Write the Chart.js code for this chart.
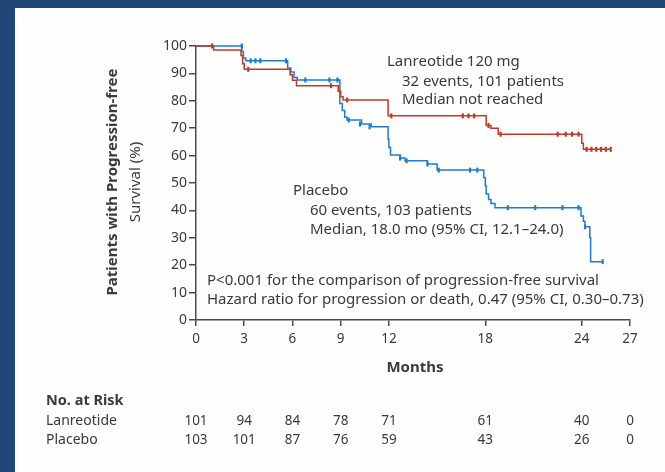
<!DOCTYPE html>
<html>
<head>
<meta charset="utf-8">
<script src="https://cdn.jsdelivr.net/npm/chart.js@4/dist/chart.umd.min.js"></script>
<style>
  html, body { margin: 0; padding: 0; }
  body { width: 665px; height: 472px; background: #1f4777; position: relative; overflow: hidden; }
  #panel { position: absolute; left: 15px; top: 8px; right: 0; bottom: 0; background: #fefefd; }
  #wrap { position: absolute; left: 0; top: 0; width: 665px; height: 472px; }
</style>
</head>
<body>
<div id="panel"></div>
<div id="wrap"><canvas id="km" width="665" height="472"></canvas></div>
<script>
// Progression-free survival, Kaplan-Meier estimates (month, % progression-free)
const monthTicks = [0, 3, 6, 9, 12, 18, 24, 27];

const lanreotideSteps = [
  [0, 100], [1.1, 98.5], [2.8, 96.5], [2.9, 93.5], [3.0, 91.5],
  [5.85, 89.5], [6.0, 87.5], [6.25, 85.5], [8.85, 83.5], [9.0, 81.5], [9.15, 80.3],
  [11.95, 74.5], [18.05, 71], [18.35, 70], [18.8, 67.8],
  [24.0, 64.5], [24.1, 62.3], [25.8, 62.3]
];
const lanreotideCensored = [
  [1.0, 100], [3.25, 91.5], [8.4, 85.5], [9.4, 80.3], [12.15, 74.5],
  [16.6, 74.5], [16.95, 74.5], [17.3, 74.5], [18.2, 71], [18.95, 67.8],
  [22.5, 67.8], [23.0, 67.8], [23.4, 67.8], [23.8, 67.8],
  [24.3, 62.3], [24.6, 62.3], [24.9, 62.3], [25.2, 62.3], [25.5, 62.3], [25.8, 62.3]
];

const placeboSteps = [
  [0, 100], [2.85, 98], [2.95, 95.6], [3.1, 94.6],
  [5.7, 92], [5.9, 90.5], [6.1, 88.5], [6.3, 87.6],
  [8.95, 79], [9.1, 76.5], [9.25, 74], [9.4, 73], [10.3, 71.5], [10.9, 70.5],
  [11.95, 66], [12.0, 63], [12.1, 60.2], [12.7, 59.1], [13.0, 58.1],
  [14.4, 56.9], [15.0, 54.7],
  [17.9, 52], [18.0, 49], [18.05, 46], [18.2, 44], [18.35, 42.5], [18.6, 41],
  [23.95, 38], [24.1, 36], [24.2, 34], [24.5, 30], [24.55, 21.3], [25.3, 21.3]
];
const placeboCensored = [
  [2.85, 100], [3.4, 94.6], [3.7, 94.6], [4.0, 94.6], [5.6, 94.6],
  [6.8, 87.6], [8.3, 87.6], [8.8, 87.6], [9.5, 73], [10.2, 71.5], [10.8, 70.5],
  [12.7, 59.1], [13.1, 58.1], [14.4, 56.9], [15.1, 54.7], [17.05, 54.7], [17.5, 54.7],
  [19.4, 41], [21.1, 41], [22.8, 41], [23.8, 41], [24.2, 34], [25.3, 21.3]
];

// Numbers at risk, by month of follow-up
const riskMonths = [0, 3, 6, 9, 12, 18, 24, 27];
const lanreotideAtRisk = [101, 94, 84, 78, 71, 61, 40, 0];
const placeboAtRisk = [103, 101, 87, 76, 59, 43, 26, 0];

const RED = '#bf382c';
const BLUE = '#1f7bcf';
const INK = '#3a3a3a';
const AXIS = '#4a4a4a';
const FAMILY = '"Noto Sans", "Open Sans", sans-serif';

const toPts = arr => arr.map(([x, y]) => ({ x, y }));

const textLayer = {
  id: 'textLayer',
  afterDraw(chart) {
    const ctx = chart.ctx;
    const xs = chart.scales.x;
    ctx.save();
    ctx.fillStyle = INK;
    ctx.textBaseline = 'middle';

    // y-axis title, two lines rotated
    ctx.save();
    ctx.translate(113, 182);
    ctx.rotate(-Math.PI / 2);
    ctx.textAlign = 'center';
    ctx.font = 'bold 15px ' + FAMILY;
    ctx.fillText('Patients with Progression-free', 0, 0);
    ctx.font = '15px ' + FAMILY;
    ctx.fillText('Survival (%)', 0, 23);
    ctx.restore();

    // x-axis title
    ctx.textAlign = 'center';
    ctx.font = 'bold 15px ' + FAMILY;
    ctx.fillText('Months', 415, 368);

    // series annotations
    ctx.textAlign = 'left';
    ctx.font = '15px ' + FAMILY;
    ctx.fillText('Lanreotide 120 mg', 387, 62);
    ctx.fillText('32 events, 101 patients', 402, 82);
    ctx.fillText('Median not reached', 402, 100);
    ctx.fillText('Placebo', 293, 191);
    ctx.fillText('60 events, 103 patients', 310, 211);
    ctx.fillText('Median, 18.0 mo (95% CI, 12.1\u201324.0)', 310, 230);
    ctx.fillText('P<0.001 for the comparison of progression-free survival', 207, 281);
    ctx.fillText('Hazard ratio for progression or death, 0.47 (95% CI, 0.30\u20130.73)', 207, 300);

    // numbers at risk
    ctx.font = 'bold 14.5px ' + FAMILY;
    ctx.fillText('No. at Risk', 46, 401);
    ctx.font = '14px ' + FAMILY;
    ctx.fillText('Lanreotide', 46, 421);
    ctx.fillText('Placebo', 46, 440);
    ctx.font = '13.5px ' + FAMILY;
    ctx.textAlign = 'center';
    riskMonths.forEach((m, i) => {
      const x = xs.getPixelForValue(m);
      ctx.fillText(String(lanreotideAtRisk[i]), x, 421);
      ctx.fillText(String(placeboAtRisk[i]), x, 440);
    });
    ctx.restore();
  }
};

const lineDs = (label, steps, color) => ({
  label, data: toPts(steps), stepped: true, showLine: true,
  borderColor: color, borderWidth: 1.5, pointRadius: 0, fill: false, clip: false, order: 2
});
const censorDs = (label, pts, color) => ({
  label, data: toPts(pts), showLine: false,
  pointStyle: 'line', rotation: 90, pointRadius: 2.5, borderWidth: 2.2,
  borderColor: color, backgroundColor: color, clip: false, order: 1
});

new Chart(document.getElementById('km'), {
  type: 'line',
  data: {
    datasets: [
      lineDs('Lanreotide', lanreotideSteps, RED),
      lineDs('Placebo', placeboSteps, BLUE),
      censorDs('Lanreotide censored', lanreotideCensored, RED),
      censorDs('Placebo censored', placeboCensored, BLUE)
    ]
  },
  options: {
    responsive: false,
    animation: false,
    events: [],
    layout: { padding: { left: 0, right: 35, top: 46, bottom: 0 } },
    plugins: { legend: { display: false }, tooltip: { enabled: false } },
    scales: {
      x: {
        type: 'linear', min: 0, max: 27,
        afterBuildTicks: s => { s.ticks = monthTicks.map(v => ({ value: v })); },
        afterFit: s => { s.height = 152; },
        ticks: { autoSkip: false, maxRotation: 0, color: INK, padding: 5, font: { family: FAMILY, size: 13.5 } },
        grid: { drawOnChartArea: false, drawTicks: true, tickLength: 6, color: AXIS, lineWidth: 1.5 },
        border: { display: true, color: AXIS, width: 1.5 }
      },
      y: {
        min: 0, max: 100,
        afterFit: s => { s.width = 196; },
        ticks: { stepSize: 10, color: INK, padding: 2, font: { family: FAMILY, size: 14 } },
        grid: { drawOnChartArea: false, drawTicks: true, tickLength: 7, color: AXIS, lineWidth: 1.5 },
        border: { display: true, color: AXIS, width: 1.5 }
      }
    }
  },
  plugins: [textLayer]
});
</script>
</body>
</html>
